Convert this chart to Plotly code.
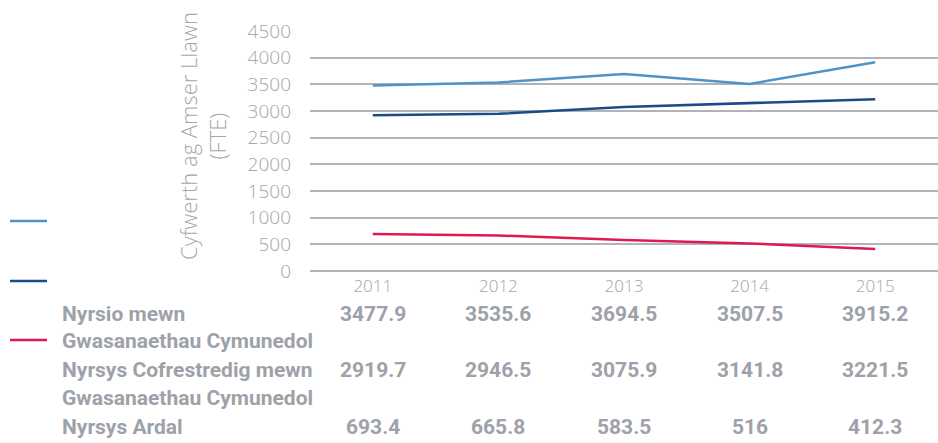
import plotly.graph_objects as go

years = ["2011", "2012", "2013", "2014", "2015"]
community_nursing = [3477.9, 3535.6, 3694.5, 3507.5, 3915.2]
registered_nurses = [2919.7, 2946.5, 3075.9, 3141.8, 3221.5]
district_nurses = [693.4, 665.8, 583.5, 516, 412.3]

series_names = ["Nyrsio mewn<br>Gwasanaethau Cymunedol",
                "Nyrsys Cofrestredig mewn<br>Gwasanaethau Cymunedol",
                "Nyrsys Ardal"]
series_values = [community_nursing, registered_nurses, district_nurses]
colors = ["#4f93c9", "#1b4c8a", "#e0194f"]

grey = "#a3a7ae"
table_grey = "#9da2a9"
light_font = "Open Sans Light, Open Sans"

fig = go.Figure()
for name, vals, col in zip(series_names, series_values, colors):
    fig.add_trace(go.Scatter(x=years, y=vals, mode="lines", name=name,
                             line=dict(color=col, width=2.5), showlegend=False))

fig.update_layout(
    width=938, height=443,
    margin=dict(l=310, r=0, t=31, b=172),
    plot_bgcolor="white", paper_bgcolor="white",
    font=dict(family="Open Sans", color=grey),
    xaxis=dict(type="category", range=[-0.5, 4.5], showgrid=False,
               showline=False, ticks="", ticklabelstandoff=3,
               tickfont=dict(size=17, color=grey, family=light_font)),
    yaxis=dict(range=[0, 4500], dtick=500, showgrid=True, gridcolor="#b0b3b8",
               gridwidth=1.5, zeroline=True, zerolinecolor="#b0b3b8", zerolinewidth=1.5,
               showline=False, ticks="", ticklabelstandoff=18,
               tickfont=dict(size=19, color=grey, family=light_font)),
)

# y axis title
fig.add_annotation(text="Cyfwerth ag Amser Llawn<br>(FTE)", textangle=-90,
                   xref="paper", yref="paper", x=-0.172, y=0.5625,
                   xanchor="center", yanchor="middle", showarrow=False,
                   font=dict(size=22, color=grey, family=light_font))

# data table below the chart
label_y = [-0.179, -0.292, -0.4125, -0.529, -0.65]
labels = ["Nyrsio mewn", "Gwasanaethau Cymunedol", "Nyrsys Cofrestredig mewn",
          "Gwasanaethau Cymunedol", "Nyrsys Ardal"]
for lab, ly in zip(labels, label_y):
    fig.add_annotation(text="<b>%s</b>" % lab, xref="paper", yref="paper",
                       x=-0.398, y=ly, xanchor="left", yanchor="middle",
                       showarrow=False,
                       font=dict(size=21, color=table_grey, family="Roboto"))

value_y = [-0.179, -0.4125, -0.65]
for vals, vy in zip(series_values, value_y):
    for i, v in enumerate(vals):
        fig.add_annotation(text="<b>%g</b>" % v, xref="x", yref="paper",
                           x=i, y=vy, xanchor="center", yanchor="middle",
                           showarrow=False,
                           font=dict(size=21, color=table_grey, family="Roboto"))

# legend keys
key_y = [0.2083, -0.0417, -0.2875]
for col, ky in zip(colors, key_y):
    fig.add_shape(type="line", xref="paper", yref="paper",
                  x0=-0.4777, x1=-0.4188, y0=ky, y1=ky,
                  line=dict(color=col, width=2.5))

fig.write_html("out.html", config={"displayModeBar": False},
               post_script="document.body.style.margin='0';")
